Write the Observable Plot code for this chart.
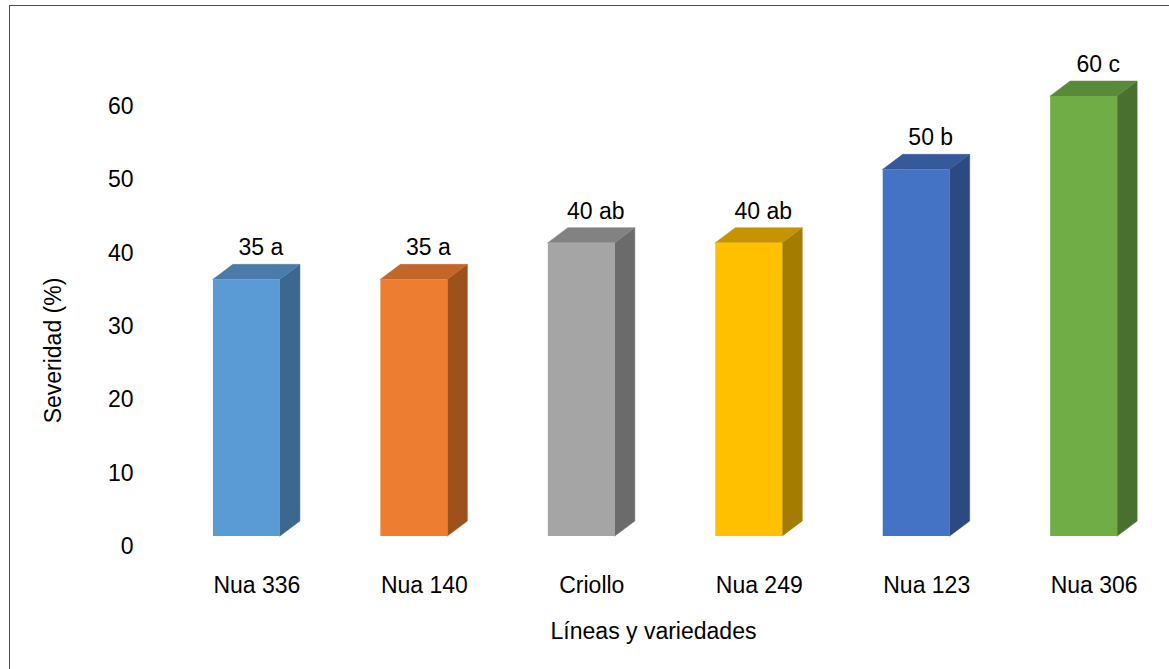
<!DOCTYPE html>
<html>
<head>
<meta charset="utf-8">
<script src="https://cdn.jsdelivr.net/npm/d3@7"></script>
<script src="https://cdn.jsdelivr.net/npm/@observablehq/plot@0.6"></script>
<style>
  html, body { margin: 0; padding: 0; background: #fff; overflow: hidden; }
  #wrap { position: relative; width: 1169px; height: 669px; overflow: hidden; }
  #border { position: absolute; left: 9px; top: 5px; width: 1300px; height: 800px; border: 1.5px solid #4d4d4d; box-sizing: border-box; }
  #chart { position: absolute; left: 0; top: 0; }
</style>
</head>
<body>
<div id="wrap"><div id="border"></div><div id="chart"></div></div>
<script>
const categories = ["Nua 336", "Nua 140", "Criollo", "Nua 249", "Nua 123", "Nua 306"];
const severity = [35, 35, 40, 40, 50, 60];
const letters = ["a", "a", "ab", "ab", "b", "c"];
const yTicks = [0, 10, 20, 30, 40, 50, 60];
const frontColors = ["#5B9BD5", "#ED7D31", "#A5A5A5", "#FFC000", "#4472C4", "#70AD47"];
const sideColors = ["#3C6890", "#9D521E", "#6B6B6B", "#A47C00", "#2D4A80", "#49702E"];
const topColors = ["#4A7CAB", "#C4662A", "#828282", "#C69400", "#36599C", "#588A39"];

const W = 1169, H = 669;
const mL = 89, mR = 0, mT = 106, mB = 123;
const xDomain = [-1, 5.45];
const pxPerX = (W - mL - mR) / (xDomain[1] - xDomain[0]);
const pxPerY = (H - mT - mB) / 60;
const half = 0.2;                 // half width of the front face (x units)
const DX = 20 / pxPerX;           // depth in x units
const DY = 15 / pxPerY;           // depth in y units

const bars = categories.map((c, i) => ({
  i, cat: c, v: severity[i], label: `${severity[i]} ${letters[i]}`,
  front: frontColors[i], side: sideColors[i], top: topColors[i]
}));

const sidePts = bars.flatMap(b => [
  {cat: b.cat, x: b.i + half, y1: 0, y2: b.v, c: b.side},
  {cat: b.cat, x: b.i + half + DX, y1: DY, y2: b.v + DY, c: b.side}
]);
const topPts = bars.flatMap(b => [
  {cat: b.cat, x: b.i - half, y1: b.v, y2: b.v, c: b.top},
  {cat: b.cat, x: b.i - half + DX, y1: b.v, y2: b.v + DY, c: b.top},
  {cat: b.cat, x: b.i + half, y1: b.v, y2: b.v + DY, c: b.top},
  {cat: b.cat, x: b.i + half + DX, y1: b.v + DY, y2: b.v + DY, c: b.top}
]);

const font = "'Liberation Sans', Arial, sans-serif";
const fs = 23;

const chart = Plot.plot({
  width: W, height: H,
  marginLeft: mL, marginRight: mR, marginTop: mT, marginBottom: mB,
  style: {fontFamily: font, fontSize: fs + "px", color: "#000", background: "transparent"},
  x: {type: "linear", domain: xDomain},
  y: {domain: [0, 60]},
  color: {type: "identity"},
  marks: [
    Plot.axisY({ticks: yTicks, tickSize: 0, tickPadding: 0, dx: 44, fontSize: fs, label: null}),
    Plot.axisX({ticks: d3.range(categories.length), tickFormat: i => categories[i], tickSize: 0, tickPadding: 30, fontSize: fs, label: null}),
    Plot.areaY(sidePts, {x: "x", y1: "y1", y2: "y2", z: "cat", fill: "c", stroke: "c", strokeWidth: 0.5, dx: -10, dy: -10}),
    Plot.areaY(topPts, {x: "x", y1: "y1", y2: "y2", z: "cat", fill: "c", stroke: "c", strokeWidth: 0.5, dx: -10, dy: -10}),
    Plot.rect(bars, {x1: d => d.i - half, x2: d => d.i + half, y1: 0, y2: "v", fill: "front", dx: -10, dy: -10}),
    Plot.text(bars, {x: "i", y: "v", text: "label", dx: 4, dy: -42, fontSize: fs, fill: "#000"}),
    Plot.text(["Severidad (%)"], {frameAnchor: "left", textAnchor: "middle", lineAnchor: "middle", rotate: -90, dx: -36, dy: 24, fontSize: fs, fill: "#000"}),
    Plot.text(["Líneas y variedades"], {frameAnchor: "bottom", textAnchor: "middle", lineAnchor: "middle", dx: 24, dy: 85, fontSize: fs, fill: "#000"})
  ]
});
document.getElementById("chart").appendChild(chart);
</script>
</body>
</html>
